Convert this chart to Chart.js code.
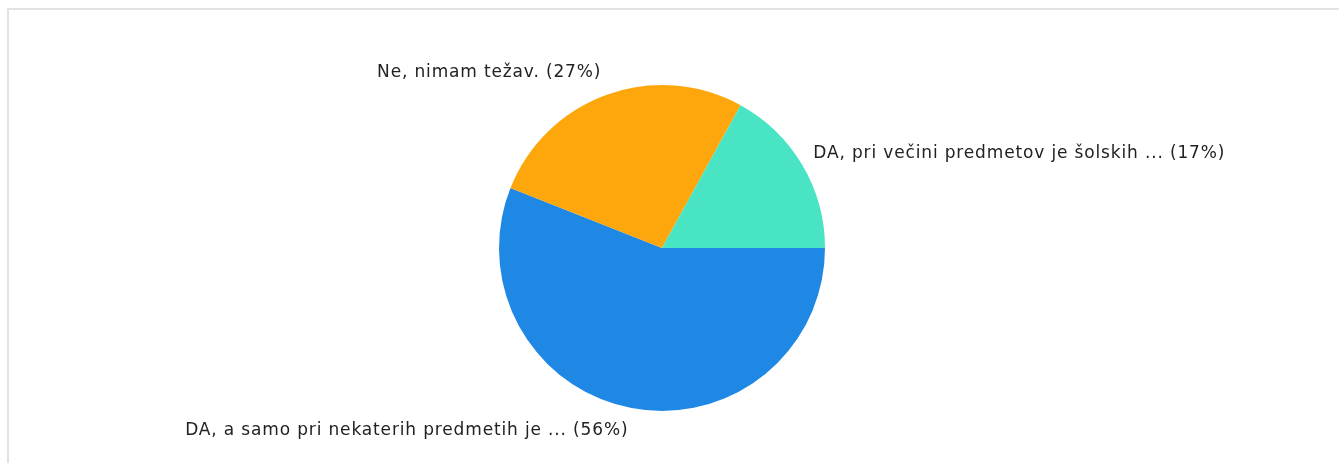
<!DOCTYPE html>
<html>
<head>
<meta charset="utf-8">
<script src="https://cdn.jsdelivr.net/npm/chart.js@4/dist/chart.umd.min.js"></script>
<style>
html,body{margin:0;padding:0;background:#fff;}
#wrap{position:relative;width:1339px;height:463px;overflow:hidden;}
#frame{position:absolute;left:7px;top:8px;right:-4px;bottom:-4px;border-top:2px solid #e2e2e2;border-left:2px solid #e2e2e2;}
canvas{position:absolute;left:0;top:0;}
</style>
</head>
<body>
<div id="wrap"><div id="frame"></div><canvas id="c" width="1339" height="463"></canvas></div>
<script>
const categories = [
  "DA, a samo pri nekaterih predmetih je ...",
  "Ne, nimam težav.",
  "DA, pri večini predmetov je šolskih ..."
];
const values = [56, 27, 17];
const colors = ["#1f88e5", "#fea70c", "#48e4c3"];

const labelPlugin = {
  id: 'sliceLabels',
  afterDatasetsDraw(chart) {
    const ctx = chart.ctx;
    const meta = chart.getDatasetMeta(0);
    const total = values.reduce((a, b) => a + b, 0);
    ctx.save();
    ctx.font = '17px "DejaVu Sans", sans-serif';
    ctx.letterSpacing = '0.85px';
    ctx.fillStyle = '#222';
    ctx.textBaseline = 'middle';
    meta.data.forEach((arc, i) => {
      const mid = (arc.startAngle + arc.endAngle) / 2;
      const r = arc.outerRadius * 1.1;
      const right = Math.cos(mid) >= 0;
      const px = arc.x + Math.cos(mid) * r + (right ? -3 : 0);
      const py = arc.y + Math.sin(mid) * r + Math.sin(mid) * 7;
      ctx.textAlign = right ? 'left' : 'right';
      const pct = Math.round(values[i] / total * 100);
      ctx.fillText(categories[i] + ' (' + pct + '%)', px, py);
    });
    ctx.restore();
  }
};

new Chart(document.getElementById('c'), {
  type: 'pie',
  data: {
    labels: categories,
    datasets: [{ data: values, backgroundColor: colors, borderWidth: 0, hoverOffset: 0 }]
  },
  options: {
    responsive: false,
    animation: false,
    rotation: 90,
    layout: { padding: { top: 85, bottom: 52, left: 0, right: 15 } },
    plugins: { legend: { display: false }, tooltip: { enabled: false } }
  },
  plugins: [labelPlugin]
});
</script>
</body>
</html>
